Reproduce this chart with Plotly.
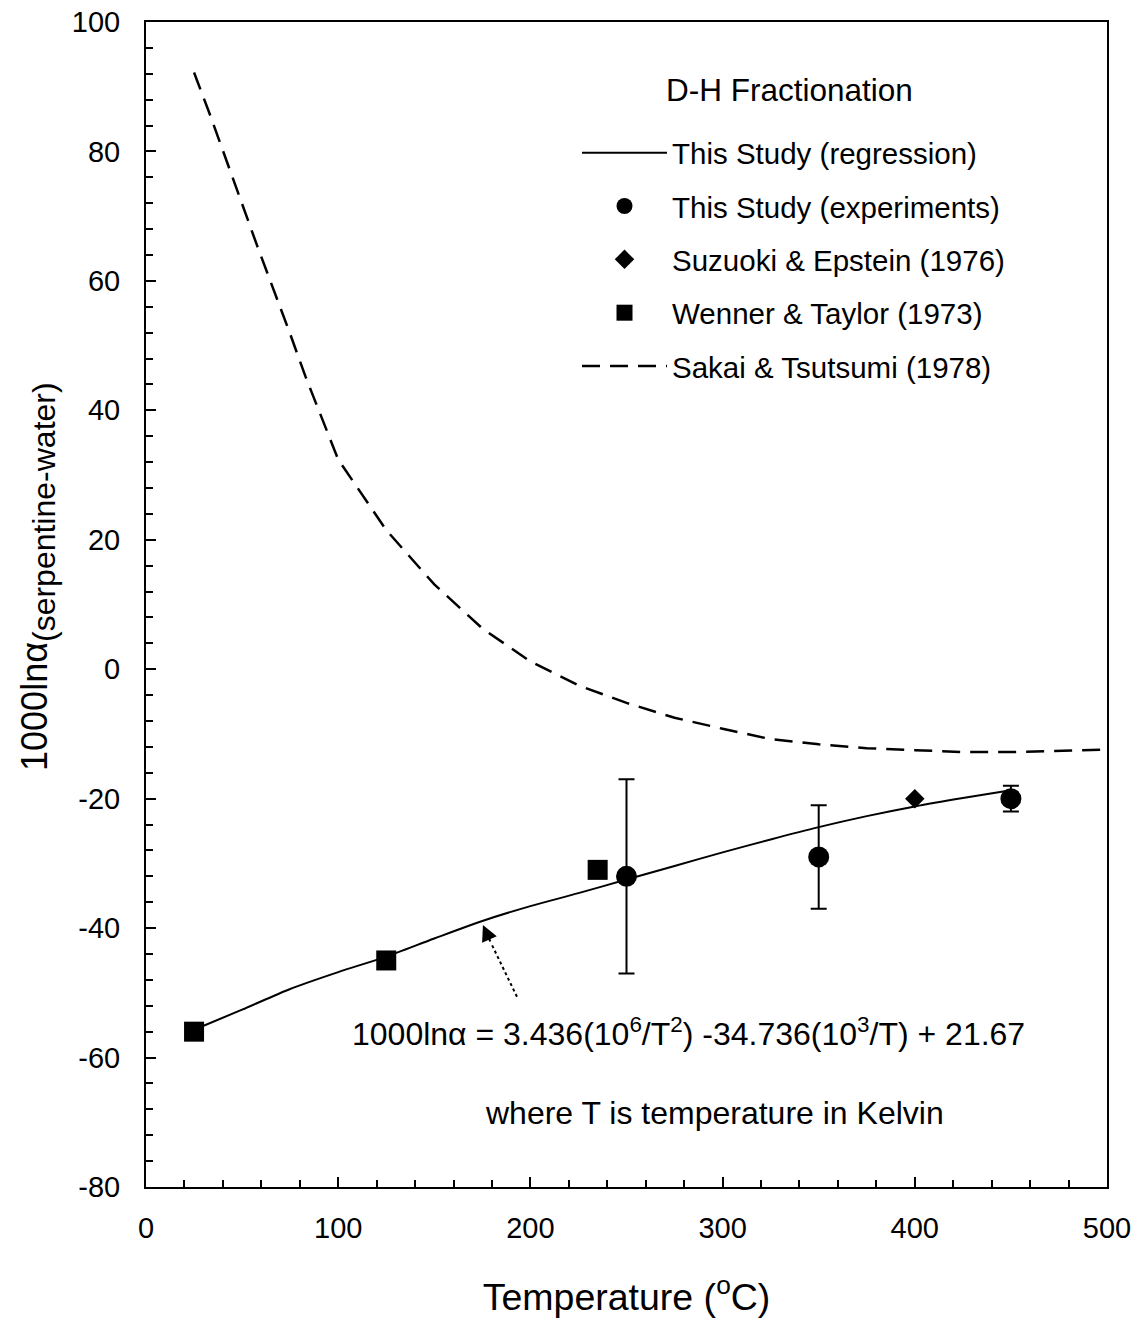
import plotly.graph_objects as go

# This Study regression curve
reg_t = [25, 50, 75, 100, 125, 150, 175, 200, 225, 250, 275, 300, 325, 350, 375, 400, 425, 450]
reg_v = [-55.7, -52.6, -49.4, -46.8, -44.4, -41.6, -38.9, -36.6, -34.6, -32.5,
         -30.4, -28.3, -26.3, -24.4, -22.7, -21.2, -19.9, -18.7]

# This Study experiments
exp_t = [250, 350, 450]
exp_v = [-32, -29, -20]
exp_err = [15, 8, 2]

# Suzuoki & Epstein (1976)
se_t = [400]
se_v = [-20]

# Wenner & Taylor (1973)
wt_t = [25, 125, 235]
wt_v = [-56, -45, -31]

# Sakai & Tsutsumi (1978)
st_t = [25, 33, 50, 58, 75, 83, 100, 125, 150, 175, 200, 225, 250, 275, 300, 325, 350, 375, 400, 425, 450, 475, 500]
st_v = [92.2, 85.9, 71.9, 65.3, 51.8, 45.2, 32.4, 21.5, 13.1, 6.3, 1.2, -2.5, -5.2, -7.5,
        -9.2, -10.8, -11.6, -12.2, -12.5, -12.8, -12.8, -12.6, -12.4]

# tick labels
x_ticks = [0, 100, 200, 300, 400, 500]
x_labels = ["0", "100", "200", "300", "400", "500"]
y_ticks = [-80, -60, -40, -20, 0, 20, 40, 60, 80, 100]
y_labels = ["-80", "-60", "-40", "-20", "0", "20", "40", "60", "80", "100"]

FONT = "Liberation Sans, Arial, sans-serif"

fig = go.Figure()

fig.add_trace(go.Scatter(
    x=reg_t, y=reg_v, mode="lines", name="This Study (regression)",
    line=dict(color="black", width=2, shape="spline", smoothing=0.8), legendgroup="a"
))
fig.add_trace(go.Scatter(
    x=exp_t, y=exp_v, mode="markers", name="This Study (experiments)",
    marker=dict(symbol="circle", size=21, color="black"),
    error_y=dict(type="data", array=exp_err, color="black", thickness=2, width=8),
    legendgroup="b"
))
fig.add_trace(go.Scatter(
    x=se_t, y=se_v, mode="markers", name="Suzuoki & Epstein (1976)",
    marker=dict(symbol="diamond", size=15, color="black"), legendgroup="c"
))
fig.add_trace(go.Scatter(
    x=wt_t, y=wt_v, mode="markers", name="Wenner & Taylor (1973)",
    marker=dict(symbol="square", size=20, color="black"), legendgroup="d"
))
fig.add_trace(go.Scatter(
    x=st_t, y=st_v, mode="lines", name="Sakai & Tsutsumi (1978)",
    line=dict(color="black", width=2.5, dash="18px,10px"), legendgroup="e"
))

# dotted pointer to the regression curve
fig.add_shape(type="line", x0=193, y0=-50.6, x1=179.5, y1=-42.3, xref="x", yref="y",
              line=dict(color="black", width=2, dash="dot"))
fig.add_annotation(x=175.3, y=-39.5, ax=179.5, ay=-42.3, axref="x", ayref="y",
                   xref="x", yref="y", text="", showarrow=True,
                   arrowhead=2, arrowsize=1.6, arrowwidth=2, arrowcolor="black")

fig.add_annotation(
    x=282, y=-56, xref="x", yref="y", showarrow=False,
    text="1000ln\u03b1 = 3.436(10<sup>6</sup>/T<sup>2</sup>) -34.736(10<sup>3</sup>/T) + 21.67",
    font=dict(family=FONT, size=32, color="black")
)
fig.add_annotation(
    x=296, y=-68.5, xref="x", yref="y", showarrow=False,
    text="where T is temperature in Kelvin",
    font=dict(family=FONT, size=32, color="black")
)

# legend heading
fig.add_annotation(
    x=0.670, y=0.9416, xref="paper", yref="paper", showarrow=False,
    xanchor="center", yanchor="middle",
    text="D-H Fractionation", font=dict(family=FONT, size=31.5, color="black")
)

# y-axis title
fig.add_annotation(
    x=-0.1124, y=0.5245, xref="paper", yref="paper", showarrow=False,
    xanchor="center", yanchor="middle", textangle=-90,
    text="1000ln\u03b1<sub><span style='font-size:32px'>(serpentine-water)</span></sub>",
    font=dict(family=FONT, size=36, color="black")
)

axis_common = dict(
    showgrid=False, zeroline=False, showline=True, linecolor="black", linewidth=2,
    mirror=True, ticks="inside", ticklen=10, tickwidth=1.5, tickcolor="black",
    tickfont=dict(family=FONT, size=29, color="black"), ticklabeloverflow="allow",
)

fig.update_xaxes(
    range=[0, 500], tickvals=x_ticks, ticktext=x_labels,
    minor=dict(dtick=20, tick0=0, ticks="inside", ticklen=7, tickwidth=1.5, tickcolor="black"),
    ticklabelstandoff=14,
    title=dict(text="Temperature (<sup>o</sup>C)", font=dict(family=FONT, size=37.5, color="black"),
               standoff=41),
    **axis_common
)
fig.update_yaxes(
    range=[-80, 100], tickvals=y_ticks, ticktext=y_labels,
    minor=dict(dtick=4, tick0=0, ticks="inside", ticklen=7, tickwidth=1.5, tickcolor="black"),
    ticklabelstandoff=18,
    **axis_common
)

fig.update_layout(
    width=1142, height=1324,
    margin=dict(l=138, r=43, t=14, b=145, autoexpand=False),
    plot_bgcolor="white", paper_bgcolor="white",
    font=dict(family=FONT, color="black"),
    showlegend=True,
    legend=dict(
        x=0.4485, y=0.9099, xanchor="left", yanchor="top",
        bgcolor="rgba(0,0,0,0)", borderwidth=0,
        font=dict(family=FONT, size=29.5, color="black"),
        itemwidth=85, tracegroupgap=12, traceorder="grouped",
    ),
)

fig.write_html("out.html")
